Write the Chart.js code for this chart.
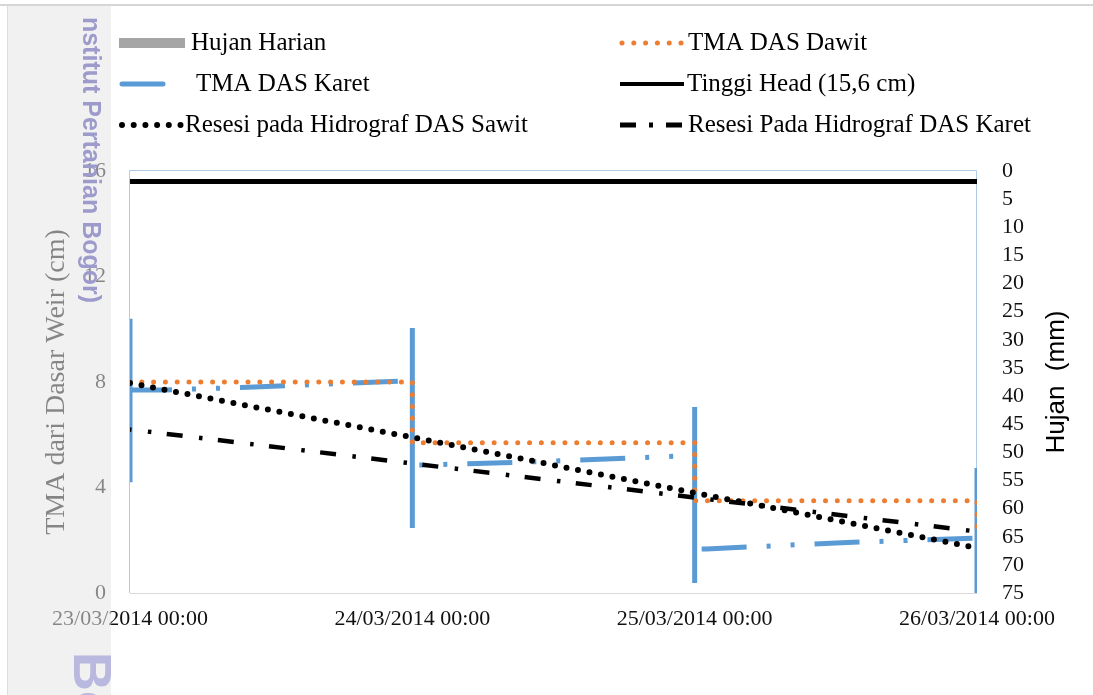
<!DOCTYPE html>
<html>
<head>
<meta charset="utf-8">
<script src="https://cdn.jsdelivr.net/npm/chart.js@4.4.1/dist/chart.umd.min.js"></script>
<style>
  html, body { margin: 0; padding: 0; background: #ffffff; overflow: hidden; }
  canvas { display: block; }
</style>
</head>
<body>
<canvas id="c" width="1093" height="695"></canvas>
<script>
// ---- data (time in hours from 23/03/2014 00:00) ----
const dayLabels = ['23/03/2014 00:00', '24/03/2014 00:00', '25/03/2014 00:00', '26/03/2014 00:00'];
const dayHours = [0, 24, 48, 72];

// daily rainfall (mm)
const hujanHarian = [0, 0, 0, 0];

// water level, DAS Karet (cm)
const karetJam = [0, 0, 0, 3, 10, 24, 24, 24, 24, 25, 36, 47, 48, 48, 48, 48, 49, 60, 72, 72, 72];
const karetTMA = [4.2, 10.4, 7.7, 7.7, 7.8, 8.05, 10.05, 2.46, 4.85, 4.85, 5.0, 5.2, 5.2, 7.05, 0.38, 1.67, 1.67, 1.9, 2.08, 4.74, 0];

// water level, DAS Dawit (cm)
const dawitJam = [0, 24, 24, 48, 48, 72, 72];
const dawitTMA = [8.0, 8.0, 5.7, 5.7, 3.5, 3.5, 2.4];

// weir head height (cm)
const tinggiHead = 15.6;

// recession lines on the hydrographs (cm), one value per day mark
const resesiSawit = [7.96, 5.9, 3.8, 1.71];
const resesiKaret = [6.2, 4.91, 3.62, 2.33];

// ---- styling ----
const BLUE = '#5B9BD5', ORANGE = '#ED7D31', GRAY = '#A5A5A5', BLACK = '#000000';
const SERIF = '"Liberation Serif", "Times New Roman", serif';
const SANS = '"Liberation Sans", Arial, sans-serif';
const karetDash = [45, 20, 4, 20, 4, 20];
const karetDashPhase = [3, 58, 106];
const dotDash = [0, 11.7];
const dashDot = [16, 16.5, 3.5, 15.5];

const toPts = (xs, ys) => xs.map((x, i) => ({ x: x, y: ys[i] }));

Chart.defaults.font.family = SERIF;

const plotFrame = {
  id: 'plotFrame',
  beforeDatasetsDraw(chart) {
    const { ctx, chartArea: a } = chart;
    ctx.save();
    ctx.lineWidth = 1;
    ctx.strokeStyle = '#AFCBE6';
    ctx.beginPath();
    ctx.moveTo(a.left - 0.5, a.bottom);
    ctx.lineTo(a.left - 0.5, a.top - 0.5);
    ctx.lineTo(a.right - 0.5, a.top - 0.5);
    ctx.lineTo(a.right - 0.5, a.bottom);
    ctx.stroke();
    ctx.strokeStyle = '#D9D9D9';
    ctx.beginPath();
    ctx.moveTo(a.left, a.bottom + 0.5);
    ctx.lineTo(a.right, a.bottom + 0.5);
    ctx.stroke();
    ctx.restore();
  }
};

function strokeSample(ctx, x1, x2, y, color, width, dash, cap, offset) {
  ctx.save();
  ctx.strokeStyle = color;
  ctx.lineWidth = width;
  ctx.lineCap = cap || 'butt';
  ctx.setLineDash(dash || []);
  ctx.lineDashOffset = offset || 0;
  ctx.beginPath();
  ctx.moveTo(x1, y);
  ctx.lineTo(x2, y);
  ctx.stroke();
  ctx.restore();
}

const decorations = {
  id: 'decorations',
  afterDraw(chart) {
    const ctx = chart.ctx;
    const ds = chart.data.datasets;

    // legend, two columns
    const rows = [43, 84, 125];
    const leftText = 191, rightText = 688;
    ctx.save();
    ctx.font = '25px ' + SERIF;
    ctx.fillStyle = '#000';
    ctx.textBaseline = 'middle';
    ctx.textAlign = 'left';

    ctx.fillStyle = GRAY;
    ctx.fillRect(119, rows[0] - 5, 66, 10);
    ctx.fillStyle = '#000';
    ctx.fillText(ds[0].label, leftText, rows[0]);

    strokeSample(ctx, 122, 163, rows[1], BLUE, 5, [], 'round');
    ctx.fillText(ds[1].label, leftText + 5, rows[1]);

    strokeSample(ctx, 122, 184, rows[2], BLACK, 6, dotDash, 'round');
    ctx.fillText(ds[4].label, leftText - 6, rows[2]);

    strokeSample(ctx, 622, 684, rows[0], ORANGE, 5, [0, 11.8], 'round');
    ctx.fillText(ds[2].label, rightText, rows[0]);

    strokeSample(ctx, 620, 684, rows[1], BLACK, 4, []);
    ctx.fillText(ds[3].label, rightText - 1, rows[1]);

    strokeSample(ctx, 620, 684, rows[2], BLACK, 5, [16, 13, 4, 13]);
    ctx.fillText(ds[5].label, rightText, rows[2]);
    ctx.restore();

    // right axis title, reading upwards
    const a = chart.chartArea;
    ctx.save();
    ctx.translate(1057, (a.top + a.bottom) / 2);
    ctx.rotate(-Math.PI / 2);
    ctx.font = '26px ' + SANS;
    ctx.fillStyle = '#000';
    ctx.textAlign = 'center';
    ctx.textBaseline = 'middle';
    ctx.fillText('Hujan  (mm)', 0, 0);
    ctx.restore();

    // page margin strip with its watermark
    ctx.save();
    ctx.fillStyle = 'rgba(230,230,232,0.55)';
    ctx.fillRect(7, 6, 104, 689);
    ctx.strokeStyle = '#DDDDDD';
    ctx.lineWidth = 1;
    ctx.beginPath();
    ctx.moveTo(7.5, 6);
    ctx.lineTo(7.5, 695);
    ctx.stroke();
    ctx.strokeStyle = '#D6D6D6';
    ctx.lineWidth = 2;
    ctx.beginPath();
    ctx.moveTo(0, 5);
    ctx.lineTo(1093, 5);
    ctx.stroke();

    ctx.beginPath();
    ctx.rect(7, 16, 104, 679);
    ctx.clip();
    ctx.textAlign = 'left';
    ctx.textBaseline = 'alphabetic';
    ctx.save();
    ctx.translate(83, 10);
    ctx.rotate(Math.PI / 2);
    ctx.font = 'bold 25px ' + SANS;
    ctx.fillStyle = '#9D9BCC';
    ctx.fillText('Institut Pertanian Bogor)', 0, 0);
    ctx.restore();
    ctx.save();
    ctx.translate(74, 652);
    ctx.rotate(Math.PI / 2);
    ctx.font = 'bold 54px ' + SANS;
    ctx.fillStyle = '#B9B8DF';
    ctx.fillText('Bogor Agricultural University', 0, 0);
    ctx.restore();
    ctx.restore();
  }
};

new Chart(document.getElementById('c'), {
  type: 'line',
  data: {
    datasets: [
      {
        type: 'bar',
        label: 'Hujan Harian',
        data: toPts(dayHours, hujanHarian),
        yAxisID: 'y2',
        backgroundColor: GRAY,
        borderWidth: 0,
        order: 10
      },
      {
        label: 'TMA DAS Karet',
        data: toPts(karetJam, karetTMA),
        yAxisID: 'y',
        borderColor: BLUE,
        borderWidth: 5,
        pointRadius: 0,
        tension: 0,
        fill: false,
        borderCapStyle: 'butt',
        segment: {
          borderDash: c => (c.p0.parsed.x === c.p1.parsed.x ? [] : karetDash),
          borderDashOffset: c => karetDashPhase[Math.min(2, Math.floor(c.p0.parsed.x / 24))]
        },
        order: 5
      },
      {
        label: 'TMA DAS Dawit',
        data: toPts(dawitJam, dawitTMA),
        yAxisID: 'y',
        borderColor: ORANGE,
        borderWidth: 5,
        borderDash: [0, 11.8],
        borderCapStyle: 'round',
        pointRadius: 0,
        tension: 0,
        fill: false,
        order: 4
      },
      {
        label: 'Tinggi Head (15,6 cm)',
        data: toPts([dayHours[0], dayHours[dayHours.length - 1]], [tinggiHead, tinggiHead]),
        yAxisID: 'y',
        borderColor: BLACK,
        borderWidth: 5,
        pointRadius: 0,
        fill: false,
        order: 3
      },
      {
        label: 'Resesi pada Hidrograf DAS Sawit',
        data: toPts(dayHours, resesiSawit),
        yAxisID: 'y',
        borderColor: BLACK,
        borderWidth: 6,
        borderDash: dotDash,
        borderCapStyle: 'round',
        pointRadius: 0,
        tension: 0,
        fill: false,
        order: 2
      },
      {
        label: 'Resesi Pada Hidrograf DAS Karet',
        data: toPts(dayHours, resesiKaret),
        yAxisID: 'y',
        borderColor: BLACK,
        borderWidth: 4.5,
        borderDash: dashDot,
        borderDashOffset: 14.5,
        borderCapStyle: 'butt',
        pointRadius: 0,
        tension: 0,
        fill: false,
        order: 1
      }
    ]
  },
  options: {
    responsive: false,
    animation: false,
    devicePixelRatio: 1,
    layout: { padding: { top: 171, left: 0, right: 0, bottom: 0 } },
    plugins: {
      legend: { display: false },
      tooltip: { enabled: false }
    },
    scales: {
      x: {
        type: 'linear',
        min: 0,
        max: 72,
        offset: false,
        grid: { display: false, drawTicks: false },
        border: { display: false },
        afterBuildTicks: s => { s.ticks = dayHours.map(v => ({ value: v })); },
        ticks: {
          autoSkip: false,
          maxRotation: 0,
          padding: 13,
          color: '#111',
          font: { family: SERIF, size: 22 },
          callback: v => dayLabels[dayHours.indexOf(v)]
        },
        afterFit: s => { s.height = 102; }
      },
      y: {
        position: 'left',
        min: 0,
        max: 16,
        grid: { display: false, drawTicks: false },
        border: { display: false },
        ticks: { stepSize: 4, padding: 24, color: '#111', font: { family: SERIF, size: 22 } },
        title: {
          display: true,
          text: 'TMA dari Dasar Weir (cm)',
          color: '#111',
          font: { family: SERIF, size: 28 },
          padding: { top: 40, bottom: 0 }
        },
        afterFit: s => { s.width = 130; }
      },
      y2: {
        position: 'right',
        min: 0,
        max: 75,
        reverse: true,
        grid: { display: false, drawTicks: false },
        border: { display: false },
        ticks: { stepSize: 5, autoSkip: false, padding: 25, color: '#111', font: { family: SERIF, size: 22 } },
        afterFit: s => { s.width = 116; }
      }
    }
  },
  plugins: [plotFrame, decorations]
});
</script>
</body>
</html>
